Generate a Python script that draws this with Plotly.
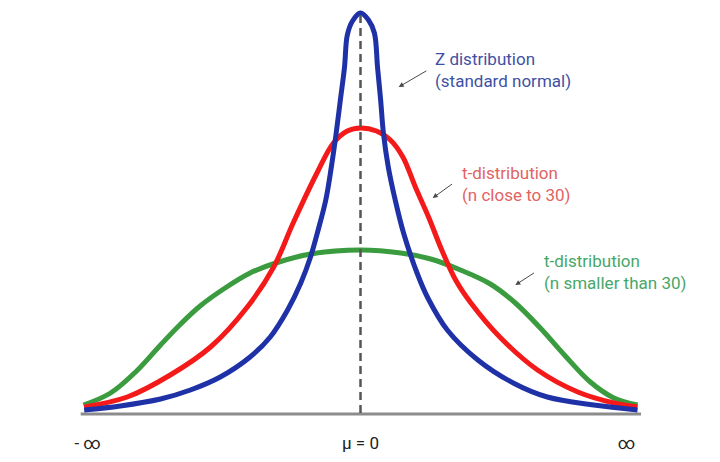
import plotly.graph_objects as go

# points (x in sd units, y = height)
BLUE_X = [-3.98, -3.46, -2.88, -2.45, -2.02, -1.59, -1.30, -1.05, -0.86, -0.72, -0.61,
          -0.50, -0.42, -0.35, -0.29, -0.23, -0.19, -0.115, 0.0, 0.115, 0.20, 0.245, 0.29,
          0.33, 0.40, 0.50, 0.62, 0.82, 0.97, 1.25, 1.69, 2.20, 2.69, 3.36, 3.99]
BLUE_Y = [0.003, 0.007, 0.014, 0.023, 0.036, 0.056, 0.076, 0.103, 0.130, 0.156, 0.183,
          0.213, 0.246, 0.280, 0.313, 0.346, 0.378, 0.392, 0.400, 0.393, 0.380, 0.346, 0.313,
          0.280, 0.246, 0.213, 0.180, 0.139, 0.115, 0.083, 0.053, 0.030, 0.016, 0.008, 0.003]

RED_X = [-3.98, -3.36, -2.74, -2.16, -1.63, -1.25, -0.97, -0.62, -0.39, -0.19, 0.0,
         0.23, 0.43, 0.61, 0.79, 0.98, 1.17, 1.37, 1.59, 2.02, 2.55, 3.13, 3.65, 3.99]
RED_Y = [0.006, 0.016, 0.038, 0.066, 0.106, 0.146, 0.190, 0.241, 0.270, 0.282, 0.285,
         0.282, 0.273, 0.256, 0.226, 0.196, 0.163, 0.133, 0.110, 0.075, 0.043, 0.021,
         0.010, 0.006]

GREEN_X = [-3.99, -3.60, -3.21, -2.88, -2.59, -2.31, -1.95, -1.59, -1.22, -0.72, 0.0,
           0.58, 1.01, 1.44, 1.87, 2.23, 2.59, 2.95, 3.31, 3.65, 3.99]
GREEN_Y = [0.008, 0.020, 0.043, 0.068, 0.089, 0.107, 0.125, 0.140, 0.150, 0.159, 0.163,
           0.160, 0.154, 0.143, 0.129, 0.110, 0.085, 0.057, 0.031, 0.015, 0.008]

TICK_VALS = [-3.93, 0, 3.83]
TICK_TEXT = ['- ∞', 'μ = 0', '∞']

LABELS = ['Z distribution<br>(standard normal)',
          't-distribution<br>(n close to 30)',
          't-distribution<br>(n smaller than 30)']
LABEL_POS = [(1.04, 0.343), (1.44, 0.229), (2.62, 0.141)]
ARROWS = [((0.55, 0.326), (0.97, 0.343)),
          ((1.04, 0.215), (1.34, 0.230)),
          ((2.23, 0.128), (2.52, 0.141))]
LABEL_COLORS = ['#3f51a3', '#e26363', '#47a768']


def main():
    fig = go.Figure()
    for xs, ys, col in [(GREEN_X, GREEN_Y, '#3a9c3f'),
                        (RED_X, RED_Y, '#f41a1a'),
                        (BLUE_X, BLUE_Y, '#1f31a6')]:
        fig.add_trace(go.Scatter(x=xs, y=ys, mode='lines',
                                 line=dict(color=col, width=5, shape='spline', smoothing=1.0),
                                 hoverinfo='skip', showlegend=False))

    # baseline and the dashed mean line
    fig.add_shape(type='line', x0=-4.03, x1=4.04, y0=-0.001, y1=-0.001,
                  line=dict(color='#8c8c8c', width=3), layer='below')
    fig.add_shape(type='line', x0=0, x1=0, y0=0, y1=0.401,
                  line=dict(color='#555555', width=2.5, dash='8px,5px'))

    for text, (x, y), col in zip(LABELS, LABEL_POS, LABEL_COLORS):
        fig.add_annotation(x=x, y=y, text=text, showarrow=False, xanchor='left',
                           yanchor='middle', align='left',
                           font=dict(size=17, color=col, family='Roboto'))
    for (hx, hy), (tx, ty) in ARROWS:
        fig.add_annotation(x=hx, y=hy, ax=tx, ay=ty, axref='x', ayref='y', text='',
                           showarrow=True, arrowhead=2, arrowsize=1, arrowwidth=1,
                           arrowcolor='#4a4a4a')

    # page body has an 8px margin, so the plot area is shifted left/up to compensate
    fig.update_layout(width=720, height=462, plot_bgcolor='white', paper_bgcolor='white',
                      margin=dict(l=47, r=62, t=0, b=51),
                      font=dict(family='Roboto', size=17, color='#222222'))
    fig.update_xaxes(range=[-4.4, 4.4], showgrid=False, zeroline=False, showline=False,
                     tickvals=TICK_VALS, ticktext=TICK_TEXT, ticks='',
                     ticklabelstandoff=12, tickfont=dict(size=17, color='#222222'))
    fig.update_yaxes(range=[-0.006, 0.405], visible=False)
    fig.write_html('out.html')


if __name__ == '__main__':
    main()
